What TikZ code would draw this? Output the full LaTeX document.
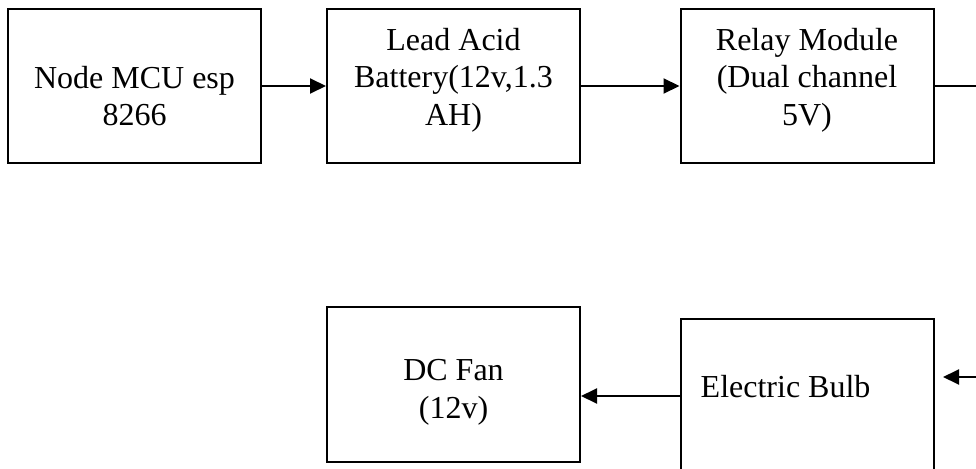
\documentclass[tikz,border=0pt]{standalone}
\usepackage{fontspec}
\setmainfont{Liberation Serif}
\usetikzlibrary{arrows.meta}

\begin{document}
\begin{tikzpicture}[x=1pt,y=-1pt,>={Triangle[length=16pt,width=15pt]},
  every node/.style={font=\fontsize{32}{37.5}\selectfont},
  blk/.style={draw,line width=2pt,minimum width=253pt,minimum height=154pt,inner sep=0pt},
  txt/.style={align=center,inner sep=0pt}]
\useasboundingbox (0,0) rectangle (976,468);
\node[blk,label={[txt,yshift=-10pt]center:{Node MCU esp\\8266}}] (mcu) at (134.5,86) {};
\node[blk,label={[txt,yshift=6pt]center:{Lead Acid\\Battery(12v,1.3\\AH)}}] (bat) at (453.5,86) {};
\node[blk,label={[txt,yshift=6pt]center:{Relay Module\\(Dual channel\\5V)}}] (rly) at (807,86) {};
\node[blk,minimum height=155pt,label={[txt,yshift=-8pt]center:{DC Fan\\(12v)}}] (fan) at (453.5,384.5) {};
\node[blk,label={[txt,anchor=west,xshift=21pt,yshift=9pt]west:Electric Bulb}] (bulb) at (807,396) {};
\coordinate (rout) at (976,86);
\coordinate (bin) at (976,377);
\coordinate (bend) at (943,377);
\draw[->,line width=2pt] (mcu)--(bat);\draw[->,line width=2pt] (bat)--(rly);
\draw[line width=2pt] (rly)--(rout);
\draw[->,line width=2pt] (bin)--(bend);
\draw[->,line width=2pt] (bulb.west)--(fan.east |- bulb.west);
\end{tikzpicture}
\end{document}
